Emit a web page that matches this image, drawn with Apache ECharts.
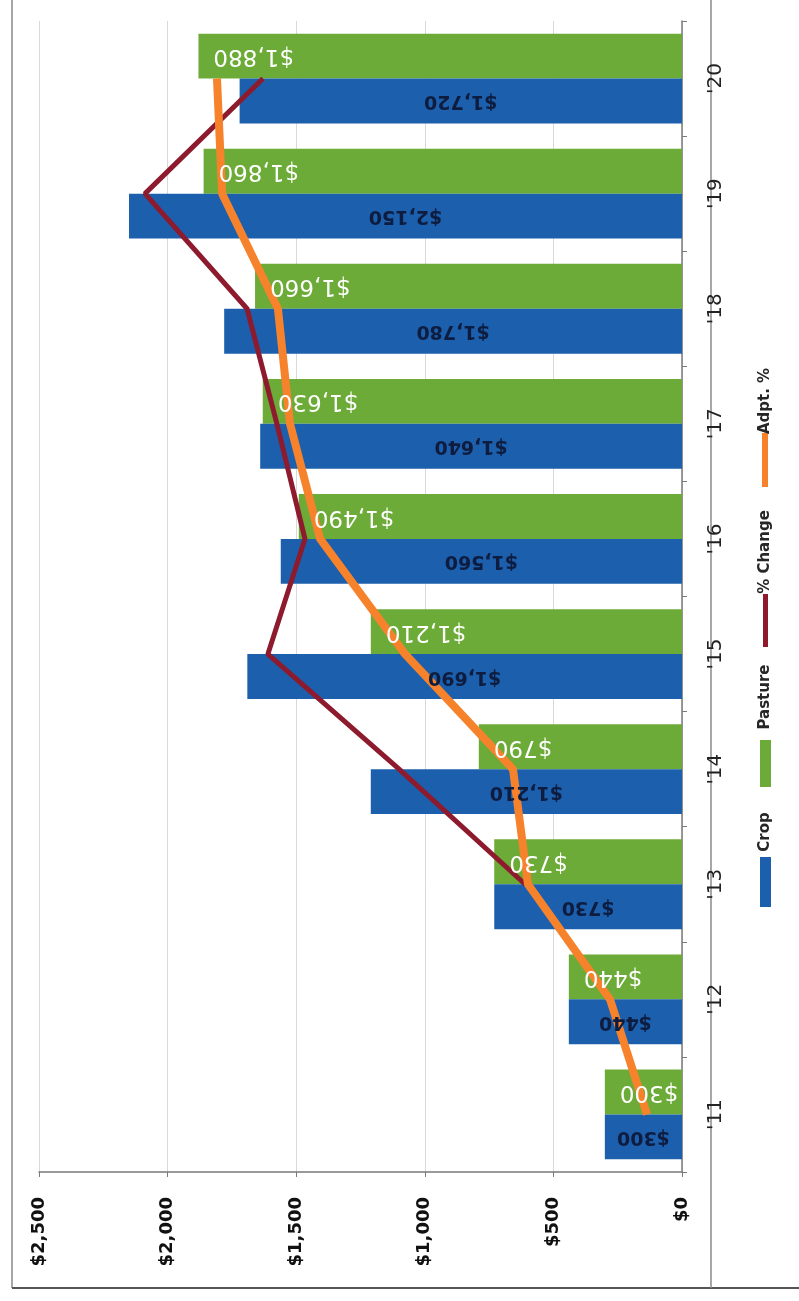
<!DOCTYPE html>
<html>
<head>
<meta charset="utf-8">
<title>Crop and Pasture</title>
<script src="https://cdn.jsdelivr.net/npm/echarts@6/dist/echarts.min.js"></script>
<style>
  html, body { margin: 0; padding: 0; background: #ffffff; }
  #chart { width: 799px; height: 1301px; }
</style>
</head>
<body>
<div id="chart"></div>
<script>
// Years along the category axis (bottom to top)
const years = ["'11", "'12", "'13", "'14", "'15", "'16", "'17", "'18", "'19", "'20"];

// Dollar values per acre
const cropValues = [300, 440, 730, 1210, 1690, 1560, 1640, 1780, 2150, 1720];
const pastureValues = [300, 440, 730, 790, 1210, 1490, 1630, 1660, 1860, 1880];

// Trend lines, read against the same dollar scale
const adoptionPct = [136, 280, 599, 657, 1077, 1407, 1524, 1571, 1788, 1808];
const changePct = [null, null, 610, 1100, 1610, 1466, 1575, 1691, 2088, 1629];

// Value axis ticks
const valueTicks = [0, 500, 1000, 1500, 2000, 2500];

const seriesNames = ['Crop', 'Pasture', '% Change', 'Adpt. %'];
const colors = {
  crop: '#1c5fad',
  pasture: '#6cab37',
  change: '#8d1b2d',
  adopt: '#f6832b'
};

const money = v => '$' + Number(v).toLocaleString('en-US');

const chart = echarts.init(document.getElementById('chart'), null, { renderer: 'canvas' });

// Rotated legend drawn as graphic elements (swatch + vertical text)
function legendText(text, cx, cy) {
  return {
    type: 'text',
    x: cx, y: cy,
    rotation: Math.PI / 2,
    style: {
      text: text, x: 0, y: 0,
      align: 'center', verticalAlign: 'middle',
      font: 'bold 15px "DejaVu Sans"',
      fill: '#262626'
    }
  };
}

const cropLabel = {
  show: true,
  position: 'inside',
  rotate: 180,
  formatter: p => money(p.value),
  color: '#0e1d3f',
  fontFamily: 'DejaVu Sans',
  fontWeight: 'bold',
  fontSize: 19
};
const pastureLabel = {
  show: true,
  position: 'insideLeft',
  align: 'right',
  verticalAlign: 'middle',
  distance: 15,
  rotate: 180,
  formatter: p => money(p.value),
  color: '#ffffff',
  fontFamily: 'DejaVu Sans',
  fontSize: 23
};

const catAxisBase = {
  type: 'category',
  position: 'right',
  data: years
};

const option = {
  animation: false,
  backgroundColor: '#ffffff',
  grid: { left: 39, right: 117, top: 21, bottom: 129, outerBoundsMode: 'none', containLabel: false },
  xAxis: {
    type: 'value',
    inverse: true,
    position: 'bottom',
    min: valueTicks[0],
    max: valueTicks[valueTicks.length - 1],
    interval: valueTicks[1] - valueTicks[0],
    axisLine: { show: true, lineStyle: { color: '#7a7a7a', width: 1.5 } },
    axisTick: { show: true, length: 5, lineStyle: { color: '#7a7a7a' } },
    splitLine: { show: true, lineStyle: { color: '#d9d9d9', width: 1 } },
    axisLabel: {
      rotate: 90,
      margin: 25,
      formatter: money,
      color: '#111111',
      fontFamily: 'DejaVu Sans',
      fontWeight: 'bold',
      fontSize: 18
    }
  },
  yAxis: [
    Object.assign({}, catAxisBase, {
      axisLine: { show: true, lineStyle: { color: '#7a7a7a', width: 1.5 } },
      axisTick: { show: true, length: 5, lineStyle: { color: '#7a7a7a' } },
      splitLine: { show: false },
      axisLabel: {
        rotate: 90,
        margin: 24,
        color: '#222222',
        fontFamily: 'DejaVu Sans',
        fontSize: 20
      }
    }),
    // twin axis carrying the value labels above the trend lines
    Object.assign({}, catAxisBase, {
      show: false
    })
  ],
  series: [
    {
      name: seriesNames[1],
      type: 'bar',
      yAxisIndex: 0,
      data: pastureValues,
      barGap: '0%',
      barCategoryGap: '22%',
      z: 2,
      itemStyle: { color: colors.pasture }
    },
    {
      name: seriesNames[0],
      type: 'bar',
      yAxisIndex: 0,
      data: cropValues,
      barGap: '0%',
      barCategoryGap: '22%',
      z: 2,
      itemStyle: { color: colors.crop }
    },
    {
      name: seriesNames[2],
      type: 'line',
      yAxisIndex: 0,
      data: changePct,
      symbol: 'none',
      connectNulls: false,
      z: 3,
      lineStyle: { color: colors.change, width: 5 },
      itemStyle: { color: colors.change }
    },
    {
      name: seriesNames[3],
      type: 'line',
      yAxisIndex: 0,
      data: adoptionPct,
      symbol: 'none',
      z: 3,
      lineStyle: { color: colors.adopt, width: 8 },
      itemStyle: { color: colors.adopt }
    },
    {
      name: seriesNames[1] + ' labels',
      type: 'bar',
      yAxisIndex: 1,
      data: pastureValues,
      barGap: '0%',
      barCategoryGap: '22%',
      z: 4,
      silent: true,
      itemStyle: { color: 'rgba(0,0,0,0)' },
      label: pastureLabel
    },
    {
      name: seriesNames[0] + ' labels',
      type: 'bar',
      yAxisIndex: 1,
      data: cropValues,
      barGap: '0%',
      barCategoryGap: '22%',
      z: 4,
      silent: true,
      itemStyle: { color: 'rgba(0,0,0,0)' },
      label: cropLabel
    }
  ],
  graphic: [
    // page frame
    { type: 'line', shape: { x1: 12, y1: 0, x2: 12, y2: 1288 }, style: { stroke: '#8a8a8a', lineWidth: 1.5 } },
    { type: 'line', shape: { x1: 12, y1: 1288, x2: 799, y2: 1288 }, style: { stroke: '#555555', lineWidth: 2 } },
    { type: 'line', shape: { x1: 711, y1: 0, x2: 711, y2: 1288 }, style: { stroke: '#8a8a8a', lineWidth: 1.5 } },
    // legend
    { type: 'rect', shape: { x: 760, y: 857, width: 11, height: 50 }, style: { fill: colors.crop } },
    legendText(seriesNames[0], 765, 832),
    { type: 'rect', shape: { x: 760, y: 740, width: 11, height: 47 }, style: { fill: colors.pasture } },
    legendText(seriesNames[1], 765, 697),
    { type: 'rect', shape: { x: 763, y: 594, width: 5, height: 53 }, style: { fill: colors.change } },
    legendText(seriesNames[2], 765, 552),
    { type: 'rect', shape: { x: 762, y: 433, width: 6, height: 54 }, style: { fill: colors.adopt } },
    legendText(seriesNames[3], 765, 401)
  ]
};

chart.setOption(option);
</script>
</body>
</html>
